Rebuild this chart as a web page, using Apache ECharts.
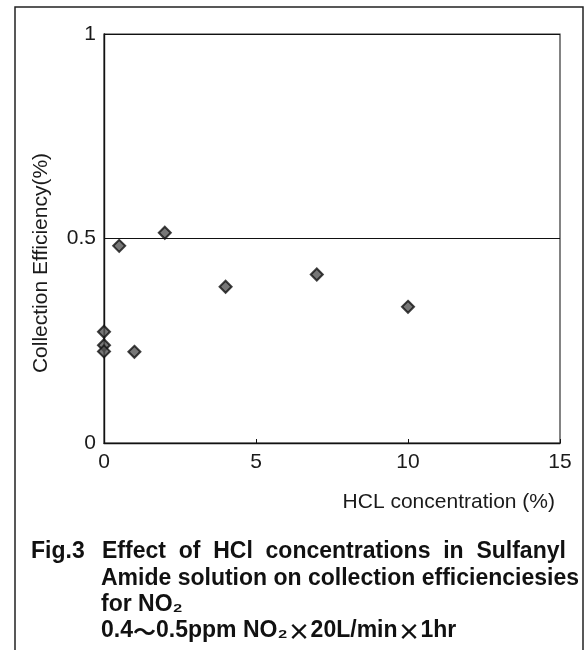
<!DOCTYPE html>
<html>
<head>
<meta charset="utf-8">
<script src="https://cdn.jsdelivr.net/npm/echarts@6/dist/echarts.min.js"></script>
<style>
html,body{margin:0;padding:0;background:#fff;}
#chart{width:588px;height:650px;}
</style>
</head>
<body>
<div id="chart"></div>
<script>
// HCl concentration (%)
const hclConcentration = [0, 0, 0, 0.5, 1, 2, 4, 7, 10];
// Collection efficiency
const collectionEfficiency = [0.272, 0.239, 0.224, 0.482, 0.223, 0.514, 0.382, 0.412, 0.333];
const xTicks = [0, 5, 10, 15];
const yTicks = [0, 0.5, 1];
const xAxisTitle = 'HCL concentration (%)';
const yAxisTitle = 'Collection Efficiency(%)';
const captionLabel = 'Fig.3';
const captionLine1 = 'Effect  of  HCl  concentrations  in  Sulfanyl';
const captionLine2 = 'Amide solution on collection efficienciesies';
const captionLine3 = 'for NO₂';
const captionLine4 = '0.4{cjk|〜}0.5ppm NO₂{cjk|×}20L/min{cjk|×}1hr';

const points = hclConcentration.map((x, i) => [x, collectionEfficiency[i]]);
const FONT = '"Liberation Sans", Arial, sans-serif';
const CJK = '"Noto Sans CJK JP", sans-serif';

const chart = echarts.init(document.getElementById('chart'), null, {renderer: 'canvas'});
const captionStyle = {fontFamily: FONT, fontSize: 23, fontWeight: 'bold', fill: '#111',
  textAlign: 'left', textVerticalAlign: 'middle',
  rich: {cjk: {fontFamily: CJK, fontSize: 23, fontWeight: 'bold', fill: '#111'}}};
const cap = (x, y, text) => ({type: 'text', x: x, y: y, style: Object.assign({text: text}, captionStyle)});

chart.setOption({
  animation: false,
  backgroundColor: '#fff',
  grid: {left: 104, top: 34, width: 456, height: 409, show: true, borderColor: '#333', borderWidth: 1.2, backgroundColor: 'transparent'},
  xAxis: {
    type: 'value', min: xTicks[0], max: xTicks[xTicks.length - 1], interval: 5,
    axisLine: {show: true, lineStyle: {color: '#111', width: 1.4}},
    axisTick: {show: true, inside: true, length: 4, lineStyle: {color: '#111'}},
    splitLine: {show: false},
    axisLabel: {margin: 9, fontFamily: FONT, fontSize: 21, color: '#1a1a1a'}
  },
  yAxis: {
    type: 'value', min: yTicks[0], max: yTicks[yTicks.length - 1], interval: 0.5,
    axisLine: {show: true, lineStyle: {color: '#111', width: 1.4}},
    axisTick: {show: false},
    splitLine: {show: true, lineStyle: {color: '#111', width: 1.2}},
    axisLabel: {margin: 8, fontFamily: FONT, fontSize: 21, color: '#1a1a1a',
      formatter: v => String(v)}
  },
  series: [{
    type: 'scatter',
    data: points,
    symbol: 'diamond',
    symbolSize: [12, 12],
    itemStyle: {color: '#555', borderColor: '#111', borderWidth: 2}
  }],
  graphic: [
    {type: 'rect', shape: {x: 15, y: 7, width: 568, height: 700}, style: {fill: 'none', stroke: '#222', lineWidth: 1.5}, silent: true},
    {type: 'text', x: 41, y: 263, rotation: Math.PI / 2,
      style: {text: yAxisTitle, fontFamily: FONT, fontSize: 21, fill: '#1a1a1a', textAlign: 'center', textVerticalAlign: 'middle'}},
    {type: 'text', x: 555, y: 502,
      style: {text: xAxisTitle, fontFamily: FONT, fontSize: 21, fill: '#1a1a1a', textAlign: 'right', textVerticalAlign: 'middle'}},
    cap(31, 552, captionLabel),
    cap(102, 552, captionLine1),
    cap(101, 579, captionLine2),
    cap(101, 605, captionLine3),
    cap(101, 631, captionLine4)
  ]
});
</script>
</body>
</html>
